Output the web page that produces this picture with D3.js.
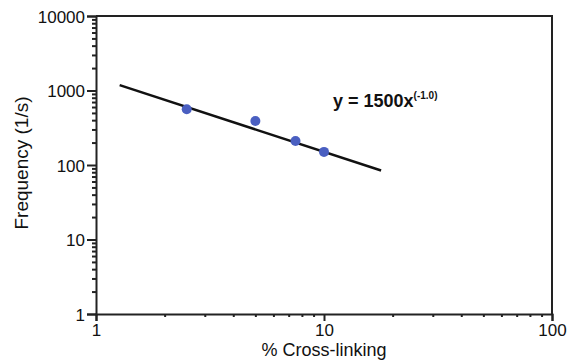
<!DOCTYPE html>
<html>
<head>
<meta charset="utf-8">
<script src="https://cdn.jsdelivr.net/npm/d3@7"></script>
<style>
	body { margin: 0; background: #fff; }
	text { font-family: "Liberation Sans", Arial, sans-serif; }
</style>
</head>
<body>
<div id="chart"></div>
<script>
// data
var crossLinking = [2.5, 5, 7.5, 10];
var frequency = [560, 390, 210, 150];
var fitA = 1500, fitB = -1.0;
var fitRange = [1.27, 17.8];
var xTicks = [1, 10, 100];
var yTicks = [1, 10, 100, 1000, 10000];

var width = 568, height = 362;
var margin = {left: 96, top: 16, right: 16, bottom: 48};
var innerW = width - margin.left - margin.right;
var innerH = height - margin.top - margin.bottom;

var svg = d3.select("#chart").append("svg")
	.attr("width", width)
	.attr("height", height);
var g = svg.append("g")
	.attr("transform", `translate(${margin.left}, ${margin.top})`);

var mapX = d3.scaleLog().domain([1, 100]).range([0, innerW]);
var mapY = d3.scaleLog().domain([1, 10000]).range([innerH, 0]);

// minor ticks for log axes
function minorTicks(domain) {
	var out = [];
	for (var d = domain[0]; d < domain[1]; d *= 10)
		for (var k = 2; k <= 9; k++) out.push(d * k);
	return out;
}

// frame (top and right)
g.append("path")
	.attr("d", `M0,0H${innerW}V${innerH}`)
	.attr("fill", "none")
	.attr("stroke", "#222")
	.attr("stroke-width", 2);

// Y axis
var yAxis = g.append("g").attr("class", "yAxis");
yAxis.call(d3.axisLeft(mapY).tickValues(yTicks).tickFormat(d3.format("d")).tickSize(9).tickPadding(2));
yAxis.append("g").call(d3.axisLeft(mapY).tickValues(minorTicks([1, 10000])).tickFormat("").tickSize(4))
	.select(".domain").remove();
yAxis.selectAll("line, path").attr("stroke", "#222").attr("stroke-width", 2);
yAxis.selectAll(".tick text").attr("font-size", 17).attr("fill", "#111").attr("dy", "0.36em");

// X axis
var xAxis = g.append("g").attr("class", "xAxis")
	.attr("transform", `translate(0, ${innerH})`);
xAxis.call(d3.axisBottom(mapX).tickValues(xTicks).tickFormat(d3.format("d")).tickSize(7).tickPadding(3));
xAxis.append("g").call(d3.axisBottom(mapX).tickValues(minorTicks([1, 100])).tickFormat("").tickSize(3))
	.select(".domain").remove();
xAxis.selectAll("line, path").attr("stroke", "#222").attr("stroke-width", 2);
xAxis.selectAll(".tick text").attr("font-size", 17).attr("fill", "#111");

// axis labels
svg.append("text")
	.text("% Cross-linking")
	.attr("x", margin.left + mapX(10))
	.attr("y", 356)
	.attr("text-anchor", "middle")
	.attr("font-size", 18)
	.attr("fill", "#111");
svg.append("text")
	.text("Frequency (1/s)")
	.attr("transform", `translate(28, 163) rotate(-90)`)
	.attr("text-anchor", "middle")
	.attr("font-size", 19)
	.attr("fill", "#111");

// fit line
var line = d3.line()
	.x(d => mapX(d))
	.y(d => mapY(fitA * Math.pow(d, fitB)));
g.append("path")
	.datum(fitRange)
	.attr("d", line)
	.attr("fill", "none")
	.attr("stroke", "#111")
	.attr("stroke-width", 2.5);

// points
g.append("g").attr("class", "points")
	.selectAll("circle")
	.data(crossLinking)
	.join("circle")
	.attr("cx", d => mapX(d))
	.attr("cy", (d, i) => mapY(frequency[i]))
	.attr("r", 5)
	.attr("fill", "#4a5fc1");

// equation
var eq = g.append("text")
	.attr("x", 237)
	.attr("y", 91)
	.attr("font-size", 18)
	.attr("font-weight", "bold")
	.attr("fill", "#111");
eq.append("tspan").text(`y = ${fitA}x`);
eq.append("tspan").text(`(${fitB.toFixed(1)})`)
	.attr("font-size", 10)
	.attr("dy", -8);
</script>
</body>
</html>
